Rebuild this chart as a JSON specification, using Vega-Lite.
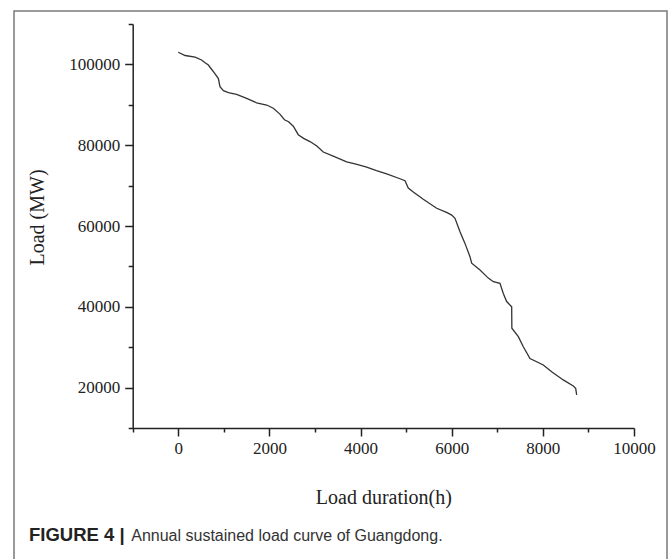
{
  "$schema": "https://vega.github.io/schema/vega-lite/v6.json",
  "width": 653,
  "height": 560,
  "autosize": {"type": "none"},
  "padding": {"left": 14, "top": 11, "right": 5, "bottom": 0},
  "background": "white",
  "data": {"values": [
    {"h": 0, "load": 103000}, {"h": 150, "load": 102200}, {"h": 370, "load": 101800}, {"h": 510, "load": 101100},
    {"h": 590, "load": 100400}, {"h": 660, "load": 99850}, {"h": 730, "load": 98800}, {"h": 800, "load": 97800},
    {"h": 880, "load": 96500}, {"h": 915, "load": 94500}, {"h": 990, "load": 93500}, {"h": 1100, "load": 93000},
    {"h": 1280, "load": 92600}, {"h": 1500, "load": 91600}, {"h": 1720, "load": 90500}, {"h": 1940, "load": 89950},
    {"h": 2085, "load": 89150}, {"h": 2230, "load": 87700}, {"h": 2330, "load": 86300}, {"h": 2420, "load": 85800},
    {"h": 2524, "load": 84700}, {"h": 2633, "load": 82600}, {"h": 2750, "load": 81700}, {"h": 2890, "load": 80900},
    {"h": 3040, "load": 79800}, {"h": 3182, "load": 78300}, {"h": 3400, "load": 77300}, {"h": 3695, "load": 75900},
    {"h": 3900, "load": 75300}, {"h": 4134, "load": 74600}, {"h": 4350, "load": 73700}, {"h": 4573, "load": 72900},
    {"h": 4865, "load": 71700}, {"h": 4975, "load": 71200}, {"h": 5047, "load": 69400}, {"h": 5157, "load": 68400},
    {"h": 5376, "load": 66600}, {"h": 5670, "load": 64400}, {"h": 5900, "load": 63300}, {"h": 6000, "load": 62700},
    {"h": 6072, "load": 61900}, {"h": 6182, "load": 58600}, {"h": 6291, "load": 55700}, {"h": 6401, "load": 52400},
    {"h": 6438, "load": 50800}, {"h": 6621, "load": 49100}, {"h": 6803, "load": 47100}, {"h": 6913, "load": 46200},
    {"h": 7059, "load": 45800}, {"h": 7132, "load": 43300}, {"h": 7206, "load": 41300}, {"h": 7316, "load": 40000},
    {"h": 7320, "load": 34700}, {"h": 7462, "load": 32600}, {"h": 7571, "load": 30100}, {"h": 7718, "load": 27200},
    {"h": 8010, "load": 25600}, {"h": 8193, "load": 23900}, {"h": 8447, "load": 21900}, {"h": 8668, "load": 20400},
    {"h": 8720, "load": 19800}, {"h": 8742, "load": 18200}
  ]},
  "title": {
    "text": "FIGURE 4 |",
    "subtitle": "\u200b\u00a0\u00a0\u00a0\u00a0\u00a0\u00a0\u00a0\u00a0\u00a0\u00a0\u00a0\u00a0\u00a0\u00a0\u00a0\u00a0\u00a0\u00a0\u00a0\u00a0\u00a0\u00a0\u00a0Annual sustained load curve of Guangdong.",
    "orient": "bottom",
    "anchor": "start",
    "frame": "group",
    "offset": -45,
    "dx": 15,
    "font": "Liberation Sans",
    "fontSize": 18.5,
    "fontWeight": "bold",
    "color": "#222222",
    "subtitleFont": "Liberation Sans",
    "subtitleFontSize": 16,
    "subtitleColor": "#333333",
    "subtitlePadding": -16.5
  },
  "mark": {"type": "line", "color": "#333333", "strokeWidth": 1.3, "clip": false},
  "encoding": {
    "x": {
      "field": "h", "type": "quantitative",
      "scale": {"domain": [-1000, 10000], "range": [118.7, 620], "nice": false, "zero": false},
      "axis": {
        "orient": "bottom",
        "offset": -143,
        "values": [-1000, 0, 1000, 2000, 3000, 4000, 5000, 6000, 7000, 8000, 9000, 10000],
        "format": "d",
        "labelExpr": "datum.value % 2000 === 0 ? datum.label : ''",
        "tickSize": {"condition": {"test": "datum.value % 2000 === 0", "value": 8}, "value": 4},
        "labelPadding": 4,
        "title": "Load duration(h)",
        "titleY": 75,
        "titleBaseline": "alphabetic"
      }
    },
    "y": {
      "field": "load", "type": "quantitative",
      "scale": {"domain": [10000, 110000], "range": [417, 13], "nice": false, "zero": false},
      "axis": {
        "orient": "left",
        "offset": -118.7,
        "values": [10000, 20000, 30000, 40000, 50000, 60000, 70000, 80000, 90000, 100000, 110000],
        "format": "d",
        "labelExpr": "datum.value % 20000 === 0 ? datum.label : ''",
        "tickSize": {"condition": {"test": "datum.value % 20000 === 0", "value": 8}, "value": 4.5},
        "labelPadding": 5,
        "title": "Load (MW)",
        "titleX": -95,
        "titleY": 206,
        "titleBaseline": "middle",
        "titleAlign": "center",
        "titleAngle": 270
      }
    }
  },
  "config": {
    "view": {"stroke": "#7a7a7a", "strokeWidth": 1.5},
    "axis": {
      "grid": false,
      "domainColor": "#222222",
      "domainWidth": 1.5,
      "tickColor": "#222222",
      "tickWidth": 1.5,
      "labelColor": "#222222",
      "labelFont": "Liberation Serif",
      "labelFontSize": 17,
      "labelOverlap": false,
      "labelFlush": false,
      "labelBound": false,
      "titleColor": "#222222",
      "titleFont": "Liberation Serif",
      "titleFontSize": 20,
      "titleFontWeight": "normal"
    }
  }
}
